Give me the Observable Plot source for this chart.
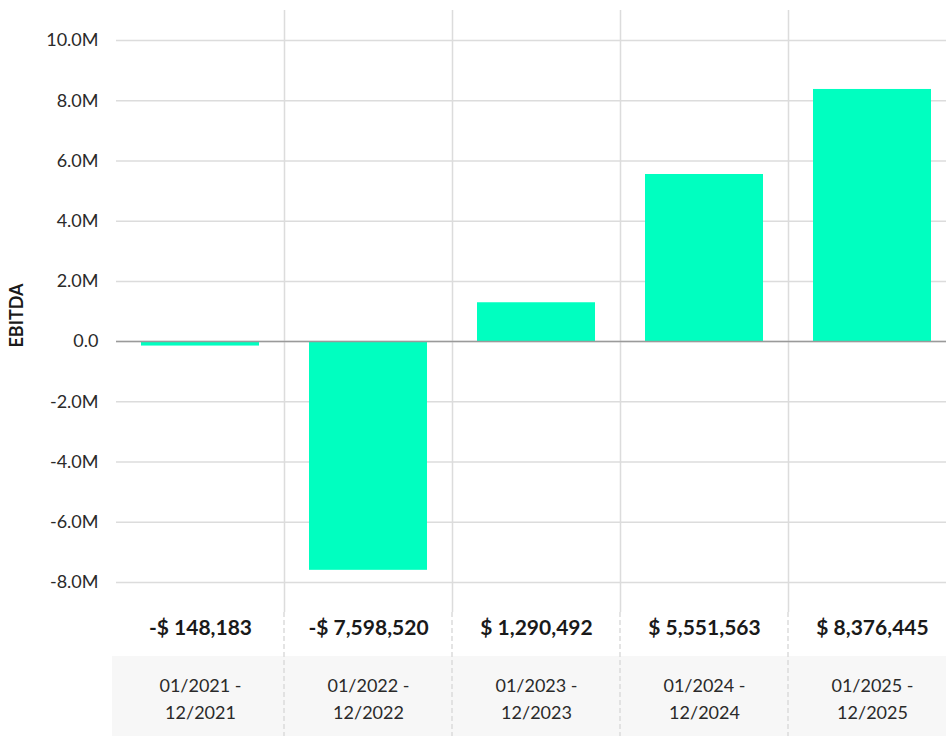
<!DOCTYPE html>
<html><head><meta charset="utf-8">
<script src="https://cdn.jsdelivr.net/npm/d3@7"></script>
<script src="https://cdn.jsdelivr.net/npm/@observablehq/plot@0.6"></script>
<style>body{margin:0;background:#fff;overflow:hidden} svg{display:block}</style>
</head><body><div id="chart"></div>
<script>
const periods = ["01/2021 -\n12/2021", "01/2022 -\n12/2022", "01/2023 -\n12/2023", "01/2024 -\n12/2024", "01/2025 -\n12/2025"];
const ebitda = [-148183, -7598520, 1290492, 5551563, 8376445];
const yTicks = [-8e6, -6e6, -4e6, -2e6, 0, 2e6, 4e6, 6e6, 8e6, 10e6];
const yLabel = "EBITDA";

const data = periods.map((p, i) => ({period: p, value: ebitda[i]}));
const fmtTick = d => d === 0 ? "0.0" : (d / 1e6).toFixed(1) + "M";
const fmtValue = v => (v < 0 ? "-" : "") + "$ " + d3.format(",")(Math.abs(v));

const W = 946, H = 736, ML = 116, MT = 10, MB = 124;
const colStep = (956 - ML) / periods.length;

const chart = Plot.plot({
  width: W, height: H,
  marginLeft: ML, marginRight: 0, marginTop: MT, marginBottom: MB,
  style: {fontFamily: "Lato, sans-serif", color: "#333", background: "#fff"},
  x: {domain: periods, range: [ML, 956], paddingInner: 0.3, paddingOuter: 0.15, axis: null},
  y: {domain: [-9e6, 11e6], axis: null},
  marks: [
    Plot.ruleY(yTicks, {stroke: "#dcdcdc", strokeWidth: 1.5}),
    Plot.ruleX(periods.slice(1), {stroke: "#dcdcdc", strokeWidth: 1.5, dx: -colStep / 2}),
    Plot.barY(data, {x: "period", y: "value", fill: "#00ffc0"}),
    Plot.ruleY([0], {stroke: "#9a9a9a", strokeWidth: 1.5}),
    Plot.axisY({ticks: yTicks, tickFormat: fmtTick, tickSize: 0, tickPadding: 18, fontSize: 18, label: null, fill: "#2a2a2a"}),
    Plot.text([yLabel], {frameAnchor: "left", textAnchor: "middle", rotate: -90, dx: -99, dy: 4, fontSize: 18, fontWeight: "bold", fill: "#1a1a1a", letterSpacing: "0.5px"}),
    Plot.text(data, {x: "period", text: d => fmtValue(d.value), frameAnchor: "bottom", lineAnchor: "middle", dy: 16, fontSize: 21, fontWeight: "bold", fill: "#1a1a1a"}),
    Plot.text(data, {x: "period", text: "period", frameAnchor: "bottom", lineAnchor: "middle", dy: 84.5, fontSize: 18, lineHeight: 1.5, fill: "#2a2a2a"})
  ]
});

// bottom band and dashed separators placed via the plot's x scale
const xs = chart.scale("x");
const svg = d3.select(chart.tagName.toLowerCase() === "svg" ? chart : chart.querySelector("svg"));
const frameBottom = H - MB;
svg.insert("rect", ":first-child")
  .attr("x", ML - 4).attr("y", frameBottom + 44)
  .attr("width", W - ML + 4).attr("height", MB - 44)
  .attr("fill", "#f7f7f7");
const half = (xs.step - xs.bandwidth) / 2;
svg.append("g").selectAll("line").data(periods.slice(1)).join("line")
  .attr("x1", d => xs.apply(d) - half).attr("x2", d => xs.apply(d) - half)
  .attr("y1", frameBottom).attr("y2", H)
  .attr("stroke", "#dcdcdc").attr("stroke-width", 1.5).attr("stroke-dasharray", "5,3");

document.getElementById("chart").append(chart);
</script></body></html>
